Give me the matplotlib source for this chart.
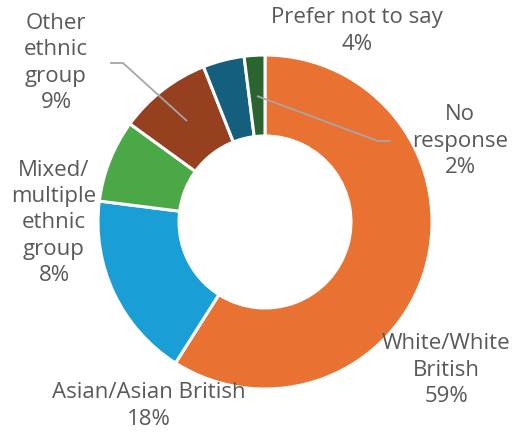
import matplotlib
matplotlib.use("Agg")
import matplotlib.pyplot as plt

categories = ["White/White British", "Asian/Asian British", "Mixed/multiple ethnic group",
              "Other ethnic group", "Prefer not to say", "No response"]
values = [59, 18, 8, 9, 4, 2]
label_texts = ["White/White\nBritish\n59%", "Asian/Asian British\n18%",
               "Mixed/\nmultiple\nethnic\ngroup\n8%", "Other\nethnic\ngroup\n9%",
               "Prefer not to say\n4%", "No\nresponse\n2%"]
colors = ["#E97132", "#1A9ED6", "#4BA847", "#974020", "#155F7E", "#2C6431"]

W, H = 512, 436
fig = plt.figure(figsize=(W / 100, H / 100), dpi=100)
ax = fig.add_axes([0, 0, 1, 1])

def Y(y):
    return H - y

cx, cy, R = 265, 222, 167
ax.pie(values, startangle=90, counterclock=False, colors=colors, radius=R,
       center=(cx, Y(cy)), frame=True,
       wedgeprops=dict(width=81, edgecolor="white", linewidth=2.2))

ax.set_xlim(0, W)
ax.set_ylim(0, H)
ax.set_aspect("equal")
ax.axis("off")

label_pos = [(446, 370), (149, 406), (54, 223), (56, 63), (357, 31), (460, 141)]
for txt, (x, y) in zip(label_texts, label_pos):
    ax.text(x, Y(y), txt, ha="center", va="center", fontsize=16, color="#595959",
            family="Open Sans", linespacing=1.34)

# leader lines
ax.plot([110, 123, 187], [Y(63), Y(63), Y(121)], color="#A6A6A6", lw=1.3, solid_capstyle="butt")
ax.plot([257, 378, 391], [Y(96), Y(141), Y(141)], color="#A6A6A6", lw=1.3, solid_capstyle="butt")

fig.savefig("out.png", dpi=100)
